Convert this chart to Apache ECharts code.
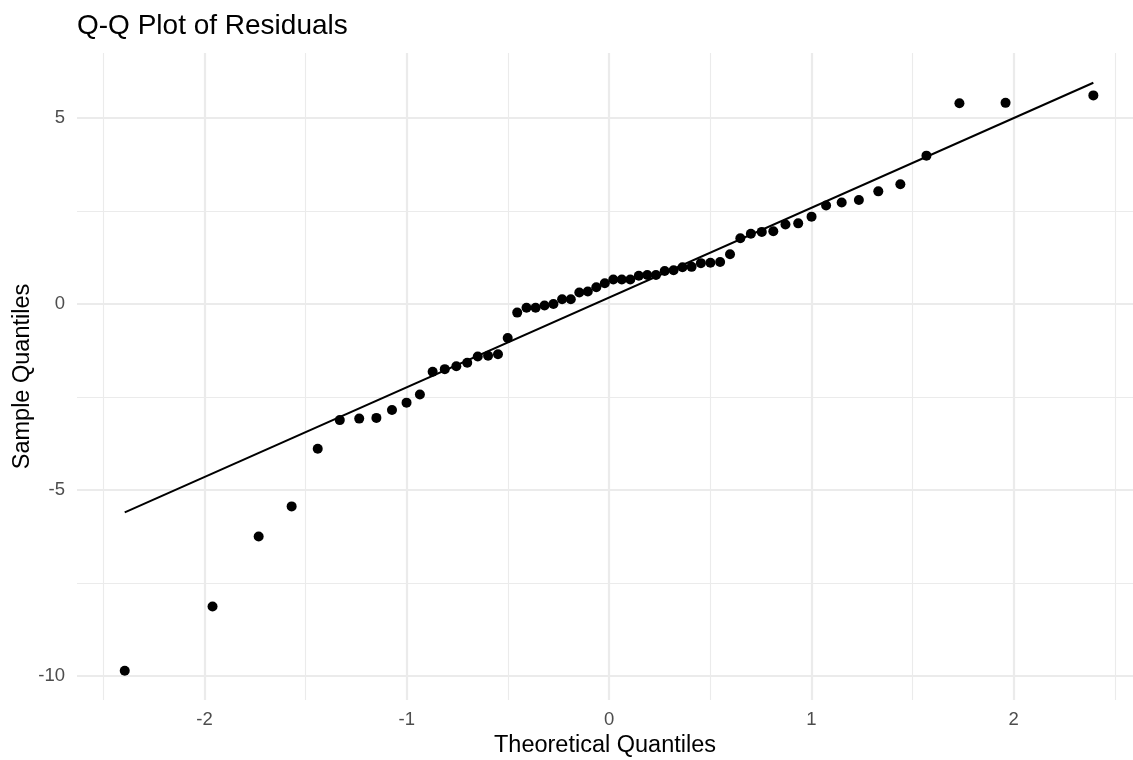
<!DOCTYPE html>
<html>
<head>
<meta charset="utf-8">
<title>Q-Q Plot of Residuals</title>
<script src="https://cdn.jsdelivr.net/npm/echarts@6/dist/echarts.min.js"></script>
<style>
  html, body { margin: 0; padding: 0; background: #ffffff; }
  #chart { width: 1133px; height: 760px; }
</style>
</head>
<body>
<div id="chart"></div>
<script>
// Theoretical normal quantiles for n = 60 (plotting positions (i - 0.5) / 60)
const theoretical = [
  -2.394, -1.960, -1.732, -1.569, -1.440, -1.331, -1.235, -1.150, -1.073, -1.001,
  -0.935, -0.872, -0.812, -0.755, -0.701, -0.649, -0.598, -0.549, -0.501, -0.454,
  -0.408, -0.363, -0.319, -0.275, -0.232, -0.189, -0.147, -0.105, -0.063, -0.021,
   0.021,  0.063,  0.105,  0.147,  0.189,  0.232,  0.275,  0.319,  0.363,  0.408,
   0.454,  0.501,  0.549,  0.598,  0.649,  0.701,  0.755,  0.812,  0.872,  0.935,
   1.001,  1.073,  1.150,  1.235,  1.331,  1.440,  1.569,  1.732,  1.960,  2.394
];

// Sorted residuals
const residuals = [
  -9.86, -8.13, -6.25, -5.44, -3.89, -3.12, -3.08, -3.06, -2.85, -2.65,
  -2.43, -1.82, -1.75, -1.67, -1.58, -1.41, -1.39, -1.35, -0.91, -0.23,
  -0.10, -0.10, -0.04,  0.00,  0.13,  0.13,  0.31,  0.34,  0.45,  0.56,
   0.66,  0.66,  0.66,  0.76,  0.78,  0.78,  0.89,  0.91,  0.99,  1.00,
   1.10,  1.11,  1.13,  1.34,  1.77,  1.89,  1.94,  1.96,  2.14,  2.17,
   2.35,  2.65,  2.73,  2.80,  3.03,  3.22,  3.99,  5.40,  5.41,  5.61
];

// Reference line end points (x, y)
const refLineX = [-2.394, 2.394];
const refLineY = [-5.60, 5.95];

// Axis tick labels and grid positions
const xTicks = [-2, -1, 0, 1, 2];
const xMinor = [-2.5, -1.5, -0.5, 0.5, 1.5, 2.5];
const yTicks = [-10, -5, 0, 5];
const yMinor = [-7.5, -2.5, 2.5];

const FONT = "'Liberation Sans', Arial, Helvetica, sans-serif";
const GRID_COLOR = '#ebebeb';

const points = theoretical.map((x, i) => [x, residuals[i]]);
const linePts = refLineX.map((x, i) => [x, refLineY[i]]);

const gridLines = [
  ...xMinor.map(v => ({ xAxis: v, lineStyle: { width: 1.1 } })),
  ...yMinor.map(v => ({ yAxis: v, lineStyle: { width: 1.1 } })),
  ...xTicks.map(v => ({ xAxis: v, lineStyle: { width: 2.2 } })),
  ...yTicks.map(v => ({ yAxis: v, lineStyle: { width: 2.2 } }))
];

const chart = echarts.init(document.getElementById('chart'), null, { renderer: 'canvas' });

chart.setOption({
  animation: false,
  backgroundColor: '#ffffff',
  title: {
    text: 'Q-Q Plot of Residuals',
    left: 77,
    top: 12,
    padding: 0,
    textStyle: { fontFamily: FONT, fontSize: 28, fontWeight: 'normal', color: '#000000' }
  },
  grid: {
    left: 77, right: 0, top: 53, bottom: 60,
    containLabel: false,
    outerBoundsMode: 'none'
  },
  xAxis: {
    type: 'value',
    min: -2.63,
    max: 2.59,
    name: 'Theoretical Quantiles',
    nameLocation: 'middle',
    nameGap: 20,
    nameTextStyle: { fontFamily: FONT, fontSize: 23.5, color: '#000000', verticalAlign: 'top' },
    axisLine: { show: false },
    axisTick: { show: false },
    splitLine: { show: false },
    axisLabel: {
      customValues: xTicks,
      margin: 10,
      fontFamily: FONT,
      fontSize: 18.5,
      color: '#4d4d4d'
    }
  },
  yAxis: {
    type: 'value',
    min: -10.645,
    max: 6.75,
    name: 'Sample Quantiles',
    nameLocation: 'middle',
    nameGap: 42,
    nameRotate: 90,
    nameMoveOverlap: false,
    nameTextStyle: { fontFamily: FONT, fontSize: 23.5, color: '#000000' },
    axisLine: { show: false },
    axisTick: { show: false },
    splitLine: { show: false },
    axisLabel: {
      customValues: yTicks,
      margin: 12,
      fontFamily: FONT,
      fontSize: 18.5,
      color: '#4d4d4d'
    }
  },
  series: [
    {
      name: 'grid',
      type: 'line',
      data: [],
      z: 0,
      silent: true,
      markLine: {
        z: 0,
        silent: true,
        symbol: ['none', 'none'],
        label: { show: false },
        lineStyle: { color: GRID_COLOR, type: 'solid' },
        emphasis: { disabled: true },
        data: gridLines
      }
    },
    {
      name: 'reference line',
      type: 'line',
      data: linePts,
      z: 2,
      symbol: 'none',
      silent: true,
      lineStyle: { color: '#000000', width: 2 }
    },
    {
      name: 'residuals',
      type: 'scatter',
      data: points,
      z: 3,
      symbol: 'circle',
      symbolSize: 10,
      itemStyle: { color: '#000000', opacity: 1 }
    }
  ]
});
</script>
</body>
</html>
